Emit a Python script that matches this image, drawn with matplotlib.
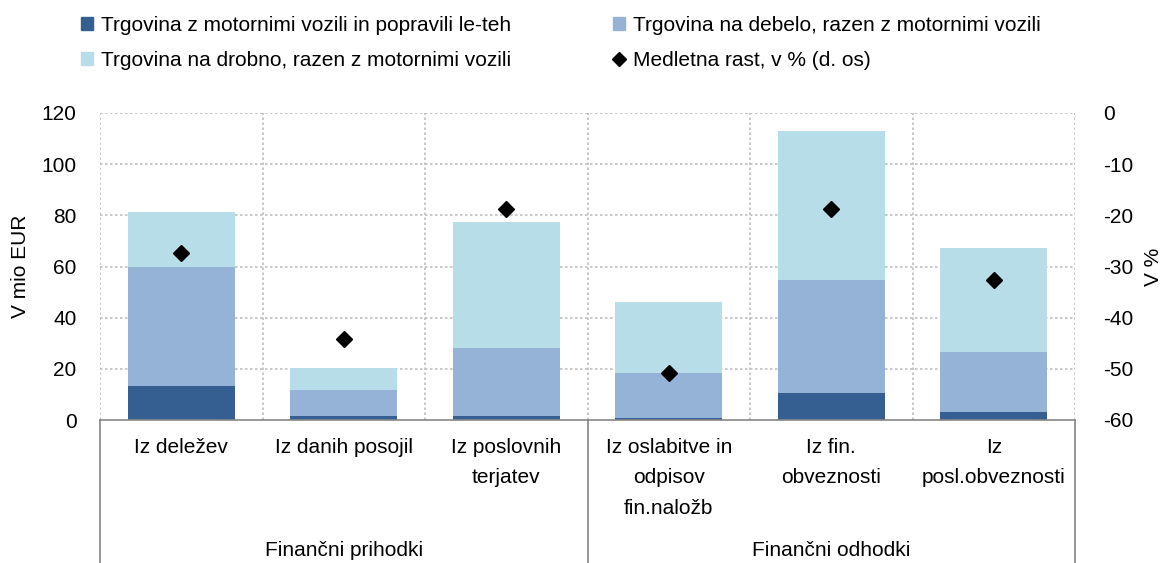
import numpy as np
import matplotlib as mpl
mpl.use("Agg")
import matplotlib.pyplot as plt
import matplotlib.transforms as mtransforms
from matplotlib.patches import Patch
from matplotlib.lines import Line2D

mpl.rcParams.update({
    "font.family": ["Liberation Sans", "DejaVu Sans"],
    "font.size": 15,
    "axes.unicode_minus": False,
})

C_DARK = "#365F91"
C_MID = "#95B3D7"
C_LIGHT = "#B7DDE8"
C_GRID = "#BFBFBF"
C_AXIS = "#868686"

categories = ["Iz deležev", "Iz danih posojil", "Iz poslovnih\nterjatev",
              "Iz oslabitve in\nodpisov\nfin.naložb", "Iz fin.\nobveznosti",
              "Iz\nposl.obveznosti"]
groups = ["Finančni prihodki", "Finančni odhodki"]
group_sizes = [3, 3]

# mio EUR, by sector
motor = [13.3, 1.6, 1.6, 0.8, 10.6, 3.1]
wholesale = [46.7, 10.1, 26.6, 17.6, 44.2, 23.5]
retail = [21.4, 8.6, 49.3, 27.8, 58.3, 40.7]
# year-on-year growth, % (right axis)
growth = [-27.4, -44.1, -18.7, -50.9, -18.7, -32.6]

series_names = ["Trgovina z motornimi vozili in popravili le-teh",
                "Trgovina na debelo, razen z motornimi vozili",
                "Trgovina na drobno, razen z motornimi vozili",
                "Medletna rast, v % (d. os)"]

x = np.arange(len(categories))
motor = np.array(motor)
wholesale = np.array(wholesale)
retail = np.array(retail)

fig = plt.figure(figsize=(11.68, 5.63), dpi=100)
ax = fig.add_axes([100 / 1168, 1 - 420 / 563, 975 / 1168, 307 / 563])

w = 0.66
ax.bar(x, motor, w, color=C_DARK, zorder=2)
ax.bar(x, wholesale, w, bottom=motor, color=C_MID, zorder=2)
ax.bar(x, retail, w, bottom=motor + wholesale, color=C_LIGHT, zorder=2)

ax.set_xlim(-0.5, len(categories) - 0.5)
ax.set_ylim(0, 120)
ax.set_yticks(np.arange(0, 121, 20))
ax.set_xticks(x)
ax.set_xticklabels(categories, linespacing=1.75)
ax.tick_params(axis="x", length=0, pad=13, labelsize=15)
ax.tick_params(axis="y", length=0, pad=17, labelsize=15)

# dotted grid, including frame edges
for yv in np.arange(20, 121, 20):
    ax.axhline(yv, color=C_GRID, lw=1.2, ls=(0, (1.5, 1.5)), zorder=1)
for xv in np.arange(-0.5, len(categories), 1.0):
    ax.axvline(xv, color=C_GRID, lw=1.2, ls=(0, (1.5, 1.5)), zorder=1)
for s in ["top", "left", "right"]:
    ax.spines[s].set_visible(False)
ax.spines["bottom"].set_color(C_AXIS)
ax.spines["bottom"].set_linewidth(1.2)
ax.set_ylabel("V mio EUR", fontsize=15, labelpad=8)

ax2 = ax.twinx()
ax2.set_ylim(-60, 0)
ax2.set_yticks(np.arange(-60, 1, 10))
ax2.tick_params(axis="y", length=0, pad=20, labelsize=15)
for s in ax2.spines.values():
    s.set_visible(False)
ax2.plot(x, growth, ls="none", marker="D", markersize=8, color="black", zorder=3)
ax2.set_ylabel("V %", fontsize=15, rotation=90, labelpad=8)

# group separators and labels below the axis
trans = mtransforms.blended_transform_factory(ax.transData, fig.transFigure)
y_axis = 1 - 420 / 563
edges = np.concatenate([[0], np.cumsum(group_sizes)]) - 0.5
for xe in edges:
    fig.add_artist(Line2D([xe, xe], [0, y_axis], transform=trans,
                          color=C_AXIS, lw=1.2))
for g, a, b in zip(groups, edges[:-1], edges[1:]):
    fig.text((a + b) / 2, 1 - 551 / 563, g, transform=trans,
             ha="center", va="center", fontsize=15)

handles = [Patch(color=C_DARK), Patch(color=C_LIGHT),
           Patch(color=C_MID),
           Line2D([], [], ls="none", marker="D", markersize=7, color="black")]
labels = [series_names[0], series_names[2], series_names[1], series_names[3]]
fig.legend(handles, labels, ncol=2, loc="upper left",
           bbox_to_anchor=(62 / 1168, 1.005), frameon=False, fontsize=15,
           handlelength=0.6, handleheight=0.6, handletextpad=0.35,
           columnspacing=4.9, labelspacing=0.75)

fig.savefig("out.png", dpi=100)
